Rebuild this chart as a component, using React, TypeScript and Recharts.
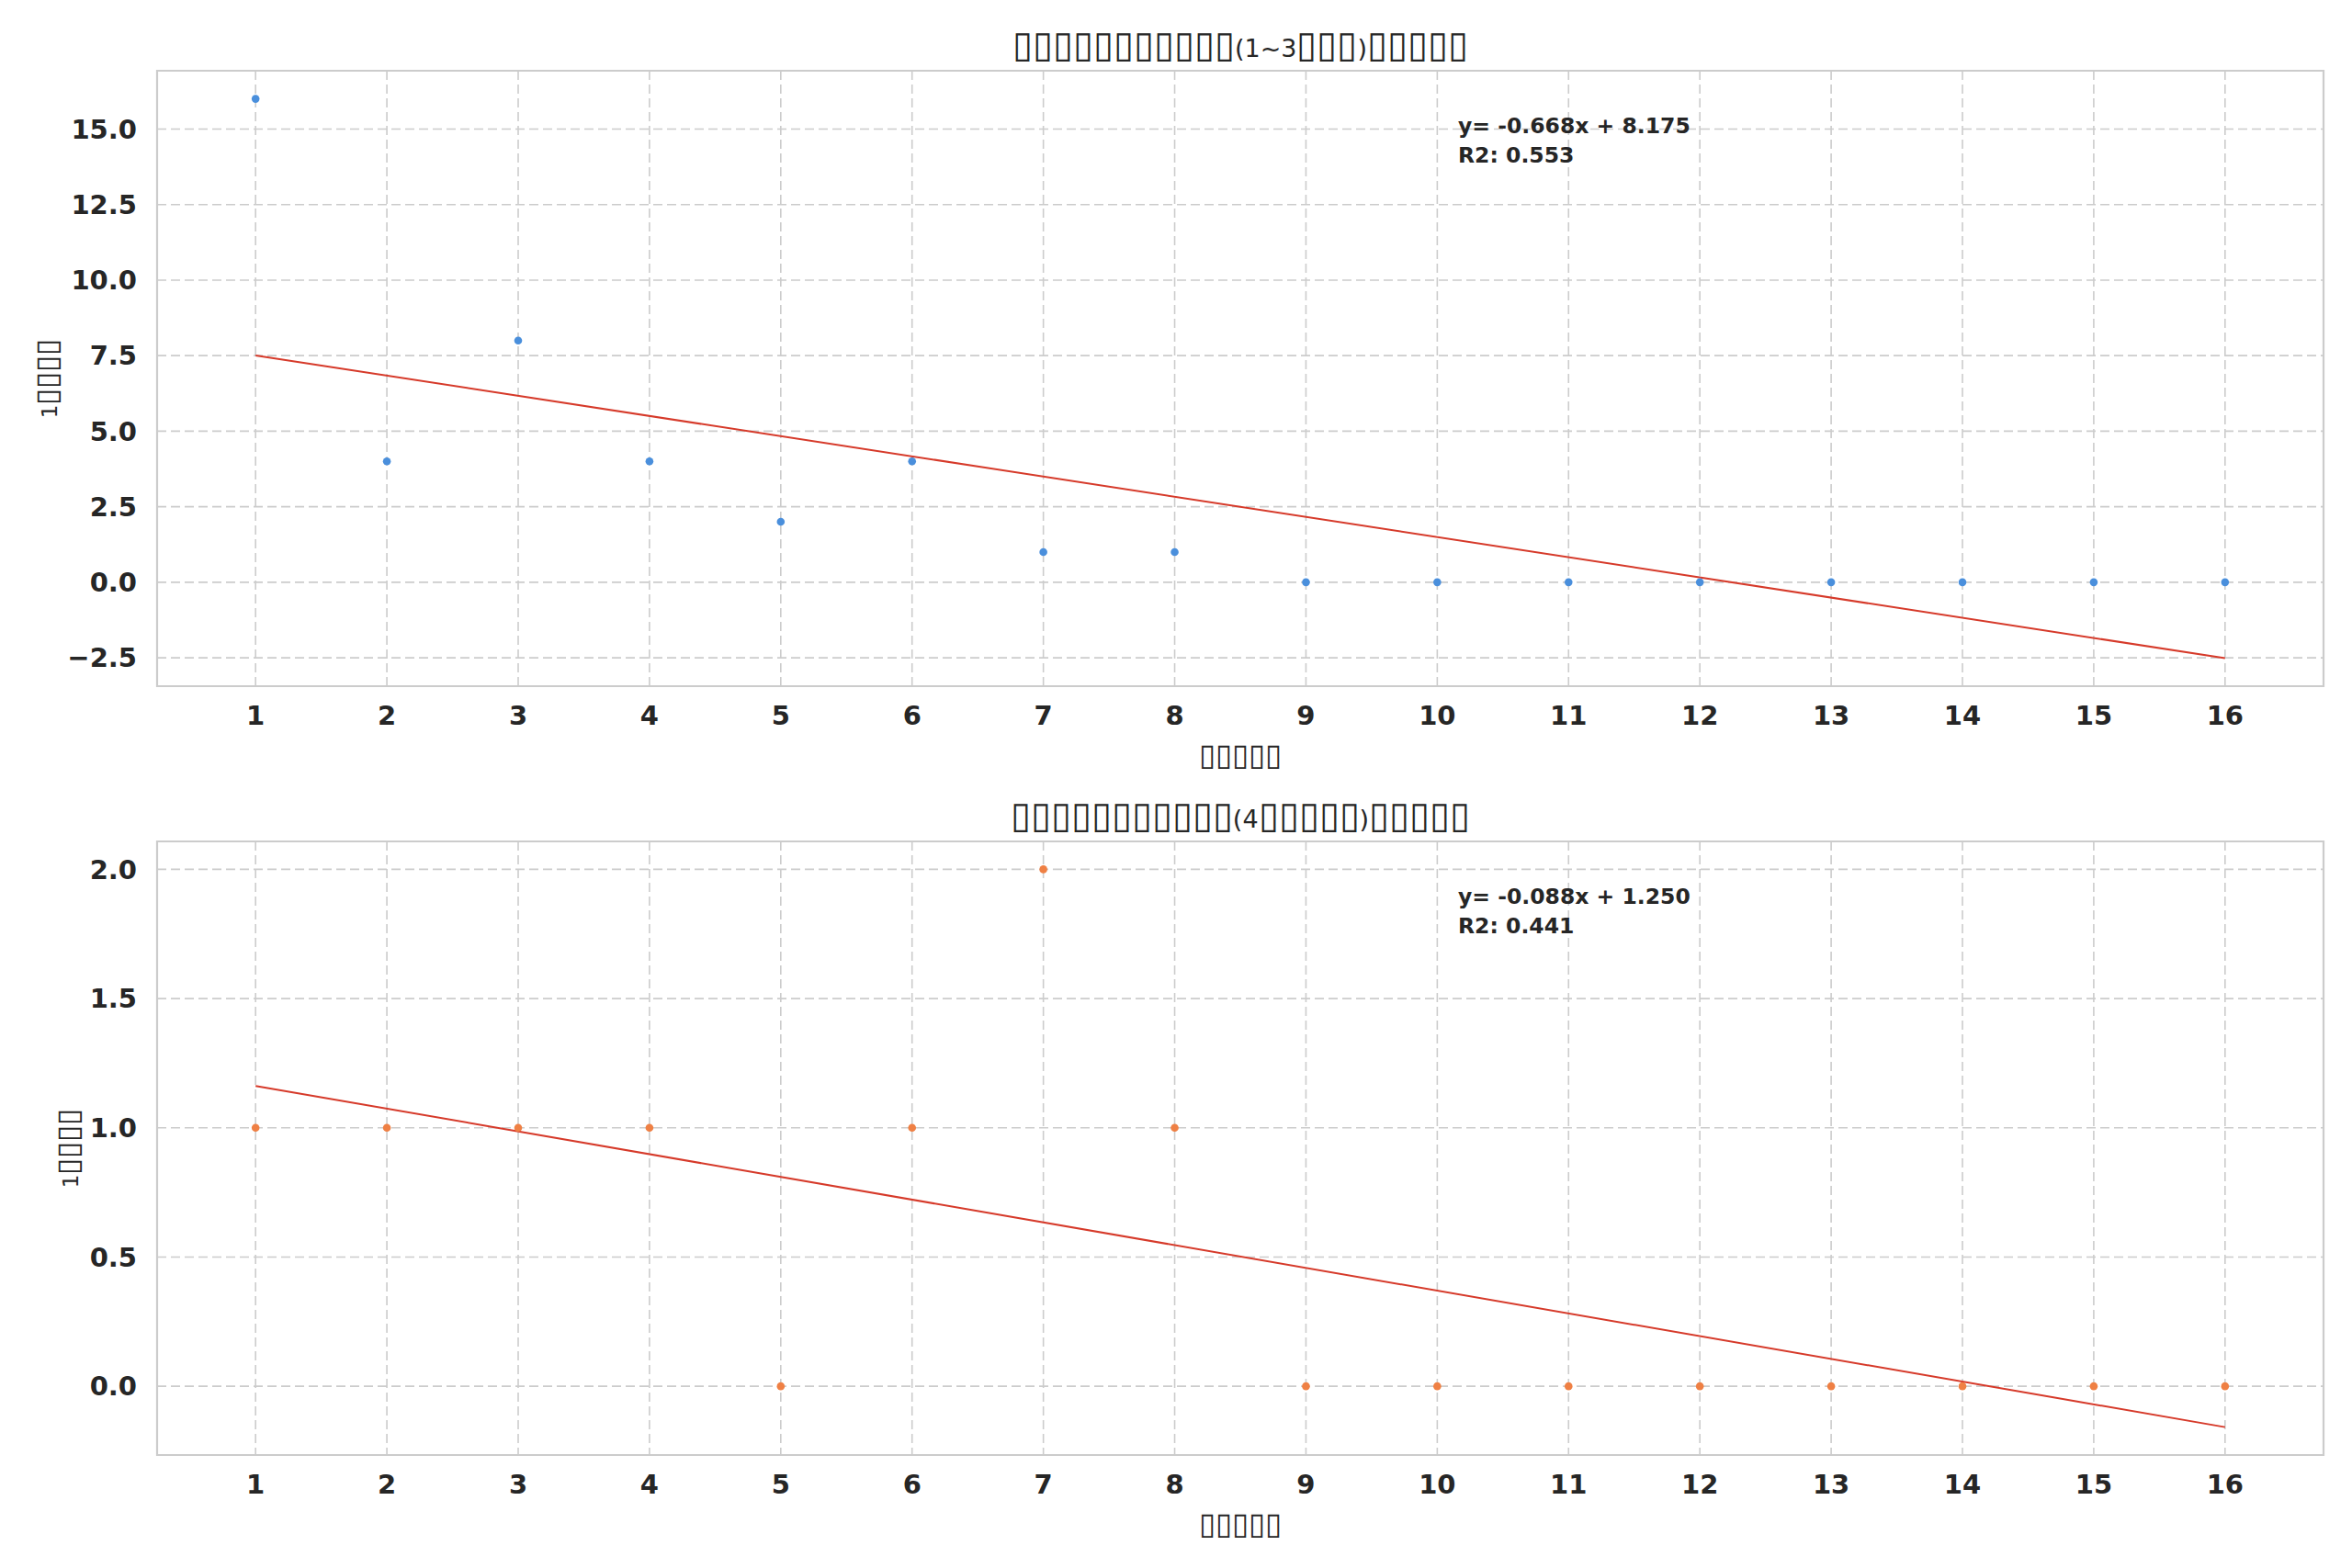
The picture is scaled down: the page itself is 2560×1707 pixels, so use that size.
import React from 'react';
import { ComposedChart, Scatter, Line, XAxis, YAxis, CartesianGrid, ReferenceArea } from 'recharts';

// weeks (x categories) and counts per week
const weeks = [1, 2, 3, 4, 5, 6, 7, 8, 9, 10, 11, 12, 13, 14, 15, 16];
const topCounts = [16, 4, 8, 4, 2, 4, 1, 1, 0, 0, 0, 0, 0, 0, 0, 0];
const bottomCounts = [1, 1, 1, 1, 0, 1, 2, 1, 0, 0, 0, 0, 0, 0, 0, 0];

// regression line end points
const fitX = [1, 16];
const topFitY = [7.507, -2.513];
const bottomFitY = [1.162, -0.158];

const topYTicks = [-2.5, 0, 2.5, 5, 7.5, 10, 12.5, 15];
const bottomYTicks = [0, 0.5, 1, 1.5, 2];

// the source font had no CJK glyphs, so the labels show as boxes
const BOX = '\u25AF';
const box = (n: number) => BOX.repeat(n);
const titles = [
  `${box(11)}(1~3${box(3)})${box(5)}`,
  `${box(11)}(4${box(5)})${box(5)}`,
];
const xLabel = box(5);
const yLabel = `1${box(4)}`;
const fitNotes = [
  ['y= -0.668x + 8.175', 'R2: 0.553'],
  ['y= -0.088x + 1.250', 'R2: 0.441'],
];

const INK = '#262626';
const GRID = '#cccccc';
const FIT = '#d63a2a';

const tickStyle = { fontFamily: 'DejaVu Sans', fontWeight: 700, fontSize: 29, fill: INK };

const fmt = (v: number) => (v < 0 ? '\u2212' : '') + Math.abs(v).toFixed(1);

const Dot = (color: string) => (props: any) => (
  <circle cx={props.cx} cy={props.cy} r={4.3} fill={color} />
);

// box runs get a bigger, lighter size so they look like the missing-glyph boxes
const Runs = ({ s, size, boxSize }: { s: string; size: number; boxSize: number }) => (
  <>
    {s.split(/(\u25AF+)/).filter(Boolean).map((seg, i) =>
      seg[0] === BOX ? (
        <tspan key={i} fontSize={boxSize} fontWeight={200}>{seg}</tspan>
      ) : (
        <tspan key={i} fontSize={size}>{seg}</tspan>
      )
    )}
  </>
);

function Panel({ counts, fitY, yDomain, yTicks, color, bottomMargin }: any) {
  const points = weeks.map((w, i) => ({ x: w, y: counts[i] }));
  const fitData = fitX.map((x, i) => ({ x, y: fitY[i] }));
  return (
    <ComposedChart width={2560} height={850} margin={{ top: 77, right: 31, bottom: bottomMargin, left: 0 }}>
      <CartesianGrid stroke={GRID} strokeDasharray="10 5" strokeWidth={1.6} />
      <XAxis
        type="number"
        dataKey="x"
        domain={[0.25, 16.75]}
        ticks={weeks}
        interval={0}
        allowDataOverflow
        axisLine={false}
        tickLine={false}
        tickSize={0}
        tickMargin={21}
        height={60}
        tick={tickStyle}
      />
      <YAxis
        type="number"
        dataKey="y"
        domain={yDomain}
        ticks={yTicks}
        interval={0}
        allowDataOverflow
        axisLine={false}
        tickLine={false}
        tickSize={0}
        tickMargin={22}
        width={171}
        tick={tickStyle}
        tickFormatter={fmt}
      />
      <ReferenceArea x1={0.25} x2={16.75} y1={yDomain[0]} y2={yDomain[1]} fill="none" stroke={GRID} strokeWidth={2.2} />
      <Line data={fitData} dataKey="y" type="linear" stroke={FIT} strokeWidth={2} dot={false} isAnimationActive={false} />
      <Scatter data={points} dataKey="y" fill={color} shape={Dot(color)} isAnimationActive={false} />
    </ComposedChart>
  );
}

export default function App() {
  const text = { fontFamily: 'DejaVu Sans', fill: INK };
  return (
    <div style={{ position: 'absolute', left: 0, top: 0, width: 2560, height: 1707, background: '#fff' }}>
      <div style={{ position: 'absolute', left: 0, top: 0 }}>
        <Panel counts={topCounts} fitY={topFitY} yDomain={[-3.44, 16.93]} yTicks={topYTicks} color="#4a8fdc" bottomMargin={43} />
      </div>
      <div style={{ position: 'absolute', left: 0, top: 839 }}>
        <Panel counts={bottomCounts} fitY={bottomFitY} yDomain={[-0.266, 2.108]} yTicks={bottomYTicks} color="#ef8044" bottomMargin={45} />
      </div>
      <svg width={2560} height={1707} style={{ position: 'absolute', left: 0, top: 0, pointerEvents: 'none' }}>
        {titles.map((t, i) => (
          <text key={t} x={1350} y={62 + i * 839} textAnchor="middle" {...text}>
            <Runs s={t} size={27} boxSize={40} />
          </text>
        ))}
        {[0, 1].map((i) => (
          <text key={'xl' + i} x={1350} y={833 + i * 837} textAnchor="middle" {...text}>
            <Runs s={xLabel} size={22} boxSize={33} />
          </text>
        ))}
        <text x={62} y={412} textAnchor="middle" transform="rotate(-90 62 412)" {...text}>
          <Runs s={yLabel} size={23} boxSize={33} />
        </text>
        <text x={85} y={1250} textAnchor="middle" transform="rotate(-90 85 1250)" {...text}>
          <Runs s={yLabel} size={23} boxSize={33} />
        </text>
        {fitNotes.map((lines, i) =>
          lines.map((l, j) => (
            <text key={l} x={1587} y={145 + j * 32 + i * 839} fontSize={23.5} fontWeight={700} {...text}>{l}</text>
          ))
        )}
      </svg>
    </div>
  );
}
